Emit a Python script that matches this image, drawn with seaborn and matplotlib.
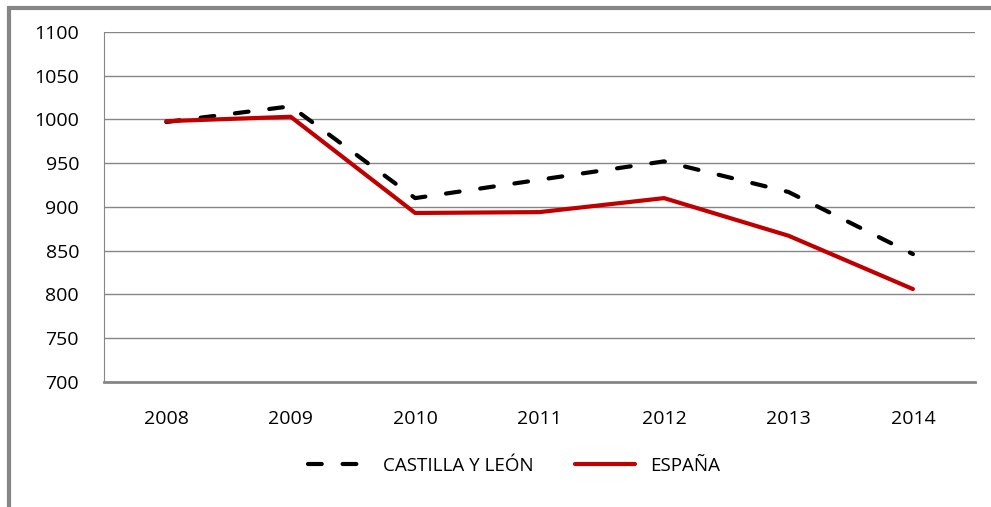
import pandas as pd
import matplotlib.pyplot as plt
import seaborn as sns
from matplotlib.patches import Rectangle
from matplotlib.lines import Line2D

# datos
anios = ["2008", "2009", "2010", "2011", "2012", "2013", "2014"]
castilla_leon = [997, 1015, 910, 931, 952, 917, 846]
espana = [998, 1003, 893, 894, 910, 867, 806]

df = pd.DataFrame({
    "anio": anios * 2,
    "valor": castilla_leon + espana,
    "serie": ["CASTILLA Y LEÓN"] * len(anios) + ["ESPAÑA"] * len(anios),
})
df["pos"] = list(range(len(anios))) * 2

sns.set_style("white")
plt.rcParams["font.family"] = ["Open Sans", "DejaVu Sans"]
plt.rcParams["text.color"] = "black"

fig = plt.figure(figsize=(9.91, 5.07), dpi=100)
ax = fig.add_axes([0.105, 0.247, 0.879, 0.69])

colores = {"CASTILLA Y LEÓN": "black", "ESPAÑA": "#c00000"}
guiones = (3.3, 5)
sns.lineplot(data=df, x="pos", y="valor", hue="serie", style="serie",
             palette=colores, dashes={"CASTILLA Y LEÓN": guiones, "ESPAÑA": ""},
             linewidth=3, ax=ax, legend=False)
for ln in ax.lines:
    ln.set_dash_capstyle("round")

ax.set_xlim(-0.5, 6.5)
ax.set_ylim(700, 1100)
ax.set_yticks(range(700, 1101, 50))
ax.set_xticks(range(len(anios)))
ax.set_xticklabels(anios)
ax.set_xlabel("")
ax.set_ylabel("")
ax.grid(axis="y", color="#868686", linewidth=1)
ax.tick_params(axis="y", length=8, color="#868686", width=1, labelsize=14,
               pad=10, labelcolor="black")
ax.tick_params(axis="x", length=0, labelsize=14, pad=20, labelcolor="black")
for s in ["top", "right"]:
    ax.spines[s].set_visible(False)
ax.spines["left"].set_color("#868686")
ax.spines["bottom"].set_color("#868686")
ax.spines["bottom"].set_linewidth(2)

# leyenda
handles = [Line2D([], [], color="black", lw=3, dashes=guiones,
                  dash_capstyle="round"),
           Line2D([], [], color="#c00000", lw=3, solid_capstyle="round")]
fig.legend(handles, ["CASTILLA Y LEÓN", "ESPAÑA"], loc="center",
           bbox_to_anchor=(0.519, 0.081), ncol=2, frameon=False, fontsize=13.5,
           handlelength=3.2, handletextpad=0.8, columnspacing=2.2)

# marco exterior
fig.patches.append(Rectangle((9 / 991, -0.1), 1.1, 1 - 8 / 507 + 0.1,
                             transform=fig.transFigure, fill=False,
                             edgecolor="#868686", linewidth=3))

fig.savefig("out.png", dpi=100)
